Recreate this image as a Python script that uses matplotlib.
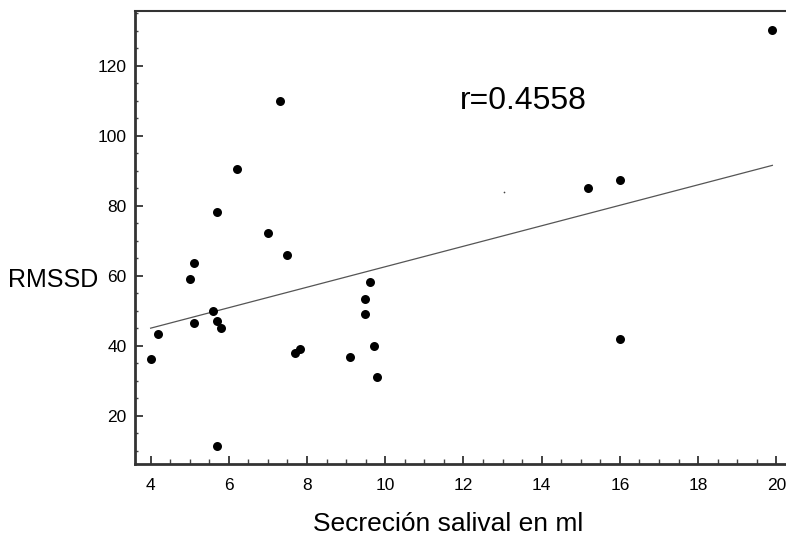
import numpy as np
import matplotlib
matplotlib.use("Agg")
import matplotlib.pyplot as plt
from matplotlib.ticker import MultipleLocator

plt.rcParams['font.family'] = ['Liberation Sans', 'DejaVu Sans']

# Datos
secrecion = [7.30, 6.20, 5.70, 7.00, 7.50, 5.10, 5.00, 5.10, 5.60, 5.70,
             5.80, 4.00, 4.20, 7.70, 7.81, 9.10, 9.49, 9.49, 9.60, 9.70,
             9.79, 5.70, 16.0, 19.88, 15.19, 16.0]
rmssd = [110.0, 90.4, 78.2, 72.3, 65.8, 63.6, 59.0, 46.5, 50.0, 47.0,
         45.1, 36.3, 43.3, 38.0, 39.0, 36.8, 49.0, 53.3, 58.1, 40.0,
         31.0, 11.4, 42.0, 130.2, 85.0, 87.3]

# punto suelto (artefacto en la imagen)
stray_x = [13.04]
stray_y = [84.0]

# recta de regresion
fit_x = [4.0, 19.9]
fit_intercept = 33.3
fit_slope = 2.925
r_texto = "r=0.4558"

fig = plt.figure(figsize=(7.86, 5.38), dpi=100)
ax = fig.add_axes([135/786, (538-464)/538, 1 - 135/786 + 0.01, (464-11)/538])

fx = np.array(fit_x)
ax.plot(fx, fit_intercept + fit_slope*fx, color='#555555', lw=0.9, zorder=2)
ax.scatter(secrecion, rmssd, s=42, color='black', zorder=3, linewidths=0)
ax.scatter(stray_x, stray_y, s=1.5, color='#444444', zorder=3, linewidths=0)

ax.set_xlim(3.6, 20.45)
ax.set_ylim(6.2, 135.6)

ax.xaxis.set_major_locator(MultipleLocator(2))
ax.xaxis.set_minor_locator(MultipleLocator(0.5))
ax.yaxis.set_minor_locator(MultipleLocator(5))
ax.set_yticks([20, 40, 60, 80, 100, 120])

ax.tick_params(which='major', direction='in', length=6, width=1.2, colors='#222222',
               labelcolor='black', labelsize=12.5, pad=6)
ax.tick_params(axis='x', which='major', pad=10)
ax.tick_params(which='minor', direction='in', length=3.5, width=1.0, colors='#444444')
ax.tick_params(axis='y', which='minor', length=2.5)

for s in ['left', 'bottom']:
    ax.spines[s].set_linewidth(2)
    ax.spines[s].set_color('#333333')
ax.spines['top'].set_linewidth(1.5)
ax.spines['top'].set_color('#333333')
ax.spines['right'].set_visible(False)

ax.text(11.92, 109.9, r_texto, fontsize=23, ha='left', va='center')

fig.text(8/786, 1 - 280/538, "RMSSD", fontsize=18, ha='left', va='center')
fig.text(448/786, 1 - 524/538, "Secreción salival en ml", fontsize=19,
         ha='center', va='center')

fig.savefig("out.png", dpi=100)
